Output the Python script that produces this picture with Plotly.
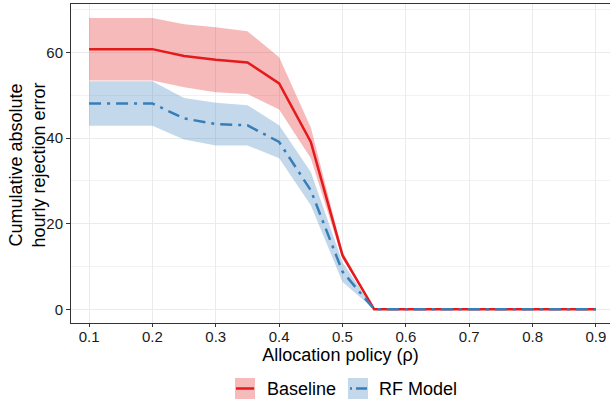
import plotly.graph_objects as go

# ---- data ----
rho = [0.1, 0.15, 0.2, 0.25, 0.3, 0.35, 0.4, 0.45, 0.5, 0.55,
       0.6, 0.65, 0.7, 0.75, 0.8, 0.85, 0.9]
baseline_mean = [60.8, 60.8, 60.8, 59.2, 58.3, 57.7, 52.8, 39.1, 12.6, 0, 0, 0, 0, 0, 0, 0, 0]
baseline_lo = [53.5, 53.5, 53.5, 51.9, 50.7, 50.3, 46.7, 35.3, 11.8, 0, 0, 0, 0, 0, 0, 0, 0]
baseline_hi = [68.1, 68.1, 68.1, 66.6, 65.9, 65.0, 58.9, 42.5, 13.5, 0, 0, 0, 0, 0, 0, 0, 0]
rf_mean = [48.1, 48.1, 48.1, 44.6, 43.3, 43.0, 39.1, 27.8, 8.8, 0, 0, 0, 0, 0, 0, 0, 0]
rf_lo = [42.9, 42.9, 42.9, 39.7, 38.3, 38.3, 35.3, 24.3, 6.4, 0, 0, 0, 0, 0, 0, 0, 0]
rf_hi = [53.3, 53.3, 53.3, 49.4, 48.3, 47.7, 43.0, 32.1, 11.0, 0, 0, 0, 0, 0, 0, 0, 0]

series_names = ["Baseline", "RF Model"]
x_ticks = [0.1, 0.2, 0.3, 0.4, 0.5, 0.6, 0.7, 0.8, 0.9]
y_ticks = [0, 20, 40, 60]

RED = "#E41A1C"
BLUE = "#377EB8"
RED_FILL = "rgba(228,26,28,0.3)"
BLUE_FILL = "rgba(55,126,184,0.3)"
DASHDOT = "12px,6px,3px,6px"
FONT = "Liberation Sans, Arial, Helvetica, sans-serif"

W, H = 610, 407
ML, MR, MT, MB = 71, 0, 4, 84

fig = go.Figure()

# ribbons
for lo, hi, fill in [(baseline_lo, baseline_hi, RED_FILL), (rf_lo, rf_hi, BLUE_FILL)]:
    fig.add_trace(go.Scatter(
        x=rho + rho[::-1], y=hi + lo[::-1], mode="lines",
        fill="toself", fillcolor=fill, line=dict(width=0),
        hoverinfo="skip", showlegend=False))

# lines
fig.add_trace(go.Scatter(x=rho, y=baseline_mean, mode="lines", name=series_names[0],
                         line=dict(color=RED, width=2.5), showlegend=False))
fig.add_trace(go.Scatter(x=rho, y=rf_mean, mode="lines", name=series_names[1],
                         line=dict(color=BLUE, width=2.5, dash=DASHDOT), showlegend=False))

# helpers for pixel -> paper
pw = W - ML - MR
ph = H - MT - MB
def px(x):
    return (x - ML) / pw
def py(y):
    return (H - MB - y) / ph

shapes = []
annotations = []

# manual legend (ggplot style keys)
keys = [(235, 255, RED_FILL, RED, series_names[0], 265),
        (348, 368, BLUE_FILL, BLUE, series_names[1], 377)]
for x0, x1, fill, col, name, tx in keys:
    shapes.append(dict(type="rect", xref="paper", yref="paper",
                       x0=px(x0), x1=px(x1), y0=py(399), y1=py(378),
                       fillcolor=fill, line=dict(width=0), layer="above"))
    if col == RED:
        shapes.append(dict(type="line", xref="paper", yref="paper",
                           x0=px(x0 + 1), x1=px(x1 - 1), y0=py(388.5), y1=py(388.5),
                           line=dict(color=col, width=2.5), layer="above"))
    else:
        shapes.append(dict(type="line", xref="paper", yref="paper",
                           x0=px(x0 + 2), x1=px(x0 + 4), y0=py(388.5), y1=py(388.5),
                           line=dict(color=col, width=2.5), layer="above"))
        shapes.append(dict(type="line", xref="paper", yref="paper",
                           x0=px(x0 + 8), x1=px(x1 - 1), y0=py(388.5), y1=py(388.5),
                           line=dict(color=col, width=2.5), layer="above"))
    annotations.append(dict(text=name, xref="paper", yref="paper",
                            x=px(tx), y=py(388.5), xanchor="left", yanchor="middle",
                            showarrow=False, font=dict(size=18, color="black", family=FONT)))

# y-axis title (two lines, rotated)
annotations.append(dict(text="Cumulative absolute<br>hourly rejection error",
                        xref="paper", yref="paper", x=px(26.5), y=py(165),
                        xanchor="center", yanchor="middle", textangle=-90,
                        showarrow=False, font=dict(size=18, color="black", family=FONT)))

fig.update_layout(
    width=W, height=H,
    margin=dict(l=ML, r=MR, t=MT, b=MB),
    paper_bgcolor="white", plot_bgcolor="white",
    font=dict(family=FONT, color="black"),
    shapes=shapes, annotations=annotations,
    showlegend=False,
)

fig.update_xaxes(
    range=[0.0715, 0.9222], tickvals=x_ticks, ticktext=[f"{v:g}" for v in x_ticks],
    showgrid=True, gridcolor="#EBEBEB", gridwidth=1,
    showline=True, linecolor="#333333", linewidth=1, mirror=True,
    ticks="outside", ticklen=3, tickcolor="#333333",
    tickfont=dict(size=15, color="#1A1A1A"),
    ticklabelstandoff=-3,
    zeroline=False,
    title=dict(text="Allocation policy (ρ)", font=dict(size=18, color="black"), standoff=3),
)
fig.update_yaxes(
    range=[-3.2, 71.35], tickvals=y_ticks,
    showgrid=True, gridcolor="#EBEBEB", gridwidth=1,
    minor=dict(tickvals=[10, 30, 50, 70], showgrid=True, gridcolor="#F2F2F2", gridwidth=0.8),
    showline=True, linecolor="#333333", linewidth=1, mirror=False,
    ticks="outside", ticklen=4, tickcolor="#333333",
    tickfont=dict(size=15, color="#1A1A1A"),
    zeroline=False,
)

fig.write_html("out.html")
